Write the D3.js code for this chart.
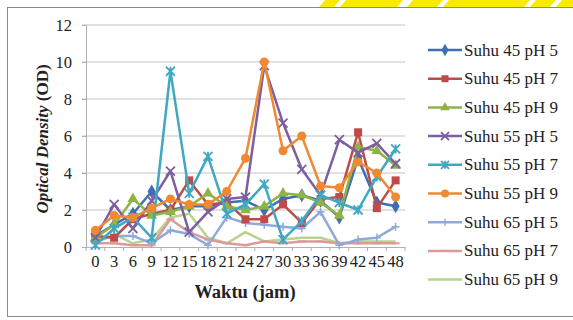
<!DOCTYPE html>
<html>
<head>
<script src="https://cdnjs.cloudflare.com/ajax/libs/d3/7.8.5/d3.min.js"></script>
<style>
  body { margin: 0; background: #fff; }
  svg { display: block; }
</style>
</head>
<body>
<div id="chart"></div>
<script>
// categories (hours)
const hours = [0, 3, 6, 9, 12, 15, 18, 21, 24, 27, 30, 33, 36, 39, 42, 45, 48];

const s45ph5 = [0.6, 1.2, 1.8, 3.0, 2.0, 2.2, 2.2, 2.4, 2.5, 2.0, 2.6, 2.8, 2.5, 1.6, 4.8, 2.4, 2.2];
const s45ph7 = [0.6, 0.5, 1.5, 1.8, 2.0, 3.6, 2.3, 2.4, 1.5, 1.5, 2.3, 1.3, 2.6, 2.7, 6.2, 2.1, 3.6];
const s45ph9 = [0.5, 1.2, 2.6, 1.7, 1.9, 2.2, 2.9, 2.2, 2.0, 2.2, 2.9, 2.8, 2.4, 1.7, 5.4, 5.2, 4.4];
const s55ph5 = [0.5, 2.3, 1.0, 2.5, 4.1, 0.8, 1.9, 2.6, 2.7, 9.8, 6.7, 4.2, 2.8, 5.8, 5.1, 5.6, 4.5];
const s55ph7 = [0.1, 1.0, 1.6, 0.5, 9.5, 2.9, 4.9, 1.8, 2.3, 3.4, 0.4, 1.4, 2.8, 2.4, 2.0, 3.8, 5.3];
const s55ph9 = [0.9, 1.7, 1.6, 2.1, 2.6, 2.3, 2.3, 3.0, 4.8, 10.0, 5.2, 6.0, 3.3, 3.2, 4.6, 4.0, 2.7];
const s65ph5 = [0.3, 0.6, 0.6, 0.2, 0.9, 0.7, 0.1, 1.6, 1.3, 1.2, 1.1, 1.0, 1.9, 0.1, 0.4, 0.5, 1.1];
const s65ph7 = [0.2, 0.2, 0.1, 0.1, 1.5, 0.8, 0.4, 0.2, 0.1, 0.3, 0.2, 0.3, 0.3, 0.2, 0.2, 0.2, 0.2];
const s65ph9 = [0.3, 0.7, 0.2, 0.4, 1.6, 1.8, 0.5, 0.2, 0.8, 0.3, 0.4, 0.5, 0.5, 0.2, 0.3, 0.3, 0.3];

const seriesNames = ["Suhu 45 pH 5", "Suhu 45 pH 7", "Suhu 45 pH 9",
                     "Suhu 55 pH 5", "Suhu 55 pH 7", "Suhu 55 pH 9",
                     "Suhu 65 pH 5", "Suhu 65 pH 7", "Suhu 65 pH 9"];
const seriesValues = [s45ph5, s45ph7, s45ph9, s55ph5, s55ph7, s55ph9, s65ph5, s65ph7, s65ph9];
const colors = ["#3f6fb0", "#be4b48", "#8fb446", "#7d5fa0", "#3fa8c2", "#f08a32",
                "#8eaadb", "#dc9a98", "#b9d38f"];
const markers = ["diamond", "square", "triangle", "x", "star", "circle", "plus", "dash", "none"];
const yTicks = [0, 2, 4, 6, 8, 10, 12];

const W = 573, H = 320;
const plot = {left: 86, right: 405, top: 25, bottom: 247};
const serif = "Liberation Serif, Times New Roman, serif";

const svg = d3.select("#chart").append("svg")
    .attr("width", W).attr("height", H);

// frame
svg.append("rect")
    .attr("x", 7.5).attr("y", 7.5).attr("width", 570).attr("height", 309)
    .attr("fill", "#fff").attr("stroke", "#8a8a8a").attr("stroke-width", 1);

// yellow page decoration at top right (slanted pieces)
const yellowBits = [[322, 337], [343, 400], [410, 440], [446, 527], [533, 553], [559, 580]];
yellowBits.forEach(([a, b]) => {
    svg.append("polygon")
        .attr("points", `${a + 3},0 ${b + 3},0 ${b - 3},7 ${a - 3},7`)
        .attr("fill", "#fcea00");
});

const x = d3.scaleBand().domain(hours).range([plot.left, plot.right]);
const y = d3.scaleLinear().domain([0, 12]).range([plot.bottom, plot.top]);

// grid lines
svg.append("g").selectAll("line").data(yTicks.filter(d => d > 0)).join("line")
    .attr("x1", plot.left - 4).attr("x2", plot.right)
    .attr("y1", d => y(d)).attr("y2", d => y(d))
    .attr("stroke", "#c4c4c4").attr("stroke-width", 1.2);

// y axis
const yAxis = svg.append("g")
    .attr("transform", `translate(${plot.left},0)`)
    .call(d3.axisLeft(y).tickValues(yTicks).tickSize(4).tickPadding(10));
yAxis.select(".domain").attr("stroke", "#b0b0b0");
yAxis.selectAll(".tick line").attr("stroke", "#b0b0b0");
yAxis.selectAll("text")
    .attr("font-family", serif).attr("font-size", 16.5).attr("fill", "#222");

// x axis
const xAxis = svg.append("g")
    .attr("transform", `translate(0,${plot.bottom})`)
    .call(d3.axisBottom(x).tickSize(0).tickPadding(8));
xAxis.select(".domain").attr("stroke", "#b0b0b0");
xAxis.selectAll("text")
    .attr("font-family", serif).attr("font-size", 16.5)
    .attr("fill", "#222").attr("dy", "0.72em");
// tick marks between categories
svg.append("g").selectAll("line").data(hours.concat(["end"])).join("line")
    .attr("x1", (d, i) => plot.left + i * x.step()).attr("x2", (d, i) => plot.left + i * x.step())
    .attr("y1", plot.bottom).attr("y2", plot.bottom + 4)
    .attr("stroke", "#b0b0b0");

// axis titles
const yTitle = svg.append("text")
    .attr("transform", `translate(48,${(plot.top + plot.bottom) / 2 + 3}) rotate(-90)`)
    .attr("text-anchor", "middle")
    .attr("font-family", serif).attr("font-size", 17)
    .attr("font-weight", "bold").attr("fill", "#222");
yTitle.append("tspan").attr("font-style", "italic").text("Optical Density ");
yTitle.append("tspan").text("(OD)");

svg.append("text")
    .attr("x", 245).attr("y", 298)
    .attr("text-anchor", "middle")
    .attr("font-family", serif).attr("font-size", 18.5)
    .attr("font-weight", "bold").attr("fill", "#222")
    .text("Waktu (jam)");

// marker drawing helper
function drawMarker(g, type, color, size) {
    const s = size;
    if (type === "diamond") {
        g.append("path").attr("d", d3.symbol(d3.symbolDiamond, s * s * 0.9)())
            .attr("fill", color);
    } else if (type === "square") {
        g.append("rect").attr("x", -s / 2).attr("y", -s / 2).attr("width", s).attr("height", s)
            .attr("fill", color);
    } else if (type === "triangle") {
        g.append("path").attr("d", d3.symbol(d3.symbolTriangle, s * s * 0.8)())
            .attr("fill", color);
    } else if (type === "circle") {
        g.append("circle").attr("r", s / 2 + 0.5).attr("fill", color);
    } else if (type === "x") {
        const h = s / 2 + 0.5;
        g.append("path").attr("d", `M${-h},${-h}L${h},${h}M${-h},${h}L${h},${-h}`)
            .attr("stroke", color).attr("stroke-width", 1.8);
    } else if (type === "star") {
        const h = s / 2 + 0.5;
        g.append("path").attr("d", `M${-h},${-h}L${h},${h}M${-h},${h}L${h},${-h}M0,${-h}L0,${h}`)
            .attr("stroke", color).attr("stroke-width", 1.8);
    } else if (type === "plus") {
        const h = s / 2;
        g.append("path").attr("d", `M0,${-h}L0,${h}M${-h},0L${h},0`)
            .attr("stroke", color).attr("stroke-width", 1.5);
    } else if (type === "dash") {
        const h = s / 2;
        g.append("path").attr("d", `M${-h},0L${h},0`)
            .attr("stroke", color).attr("stroke-width", 2);
    }
}

const line = d3.line()
    .x((d, i) => x(hours[i]) + x.bandwidth() / 2)
    .y(d => y(d));

// draw series (last ones underneath)
const order = [8, 7, 6, 0, 1, 2, 3, 4, 5];
order.forEach(k => {
    const g = svg.append("g");
    g.append("path").datum(seriesValues[k])
        .attr("d", line)
        .attr("fill", "none")
        .attr("stroke", colors[k])
        .attr("stroke-width", 2.5)
        .attr("stroke-linejoin", "round");
    seriesValues[k].forEach((v, i) => {
        const m = g.append("g")
            .attr("transform", `translate(${x(hours[i]) + x.bandwidth() / 2},${y(v)})`);
        drawMarker(m, markers[k], colors[k], 8);
    });
});

// legend
const legend = svg.append("g");
seriesNames.forEach((name, i) => {
    const ly = 50 + i * 28.7;
    legend.append("line")
        .attr("x1", 428).attr("x2", 462).attr("y1", ly).attr("y2", ly)
        .attr("stroke", colors[i]).attr("stroke-width", 2.5);
    const m = legend.append("g").attr("transform", `translate(445,${ly})`);
    drawMarker(m, markers[i], colors[i], 7);
    legend.append("text")
        .attr("x", 464).attr("y", ly + 5.5)
        .attr("font-family", serif).attr("font-size", 17)
        .attr("fill", "#222")
        .text(name);
});
</script>
</body>
</html>
